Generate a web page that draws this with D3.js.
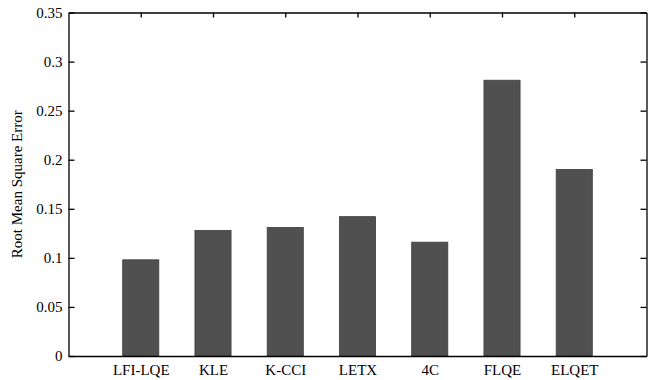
<!DOCTYPE html>
<html><head><meta charset="utf-8">
<script src="https://cdn.jsdelivr.net/npm/d3@7"></script>
<style>body{margin:0;background:#fff} svg text{font-family:"Liberation Serif","Times New Roman",Tinos,serif;}</style>
</head><body>
<script>
const categories = ["LFI-LQE","KLE","K-CCI","LETX","4C","FLQE","ELQET"];
const rmse = [0.098,0.128,0.131,0.142,0.116,0.281,0.190];
const yTicks = [0,0.05,0.1,0.15,0.2,0.25,0.3,0.35];
const yLabel = "Root Mean Square Error";

const W=655,H=380;
const m={l:68.5,r:8.5,t:12.5,b:24};
const svg=d3.select("body").append("svg").attr("width",W).attr("height",H);
const x=d3.scaleLinear().domain([0,categories.length+1]).range([m.l,W-m.r]);
const y=d3.scaleLinear().domain([0,0.35]).range([H-m.b,m.t]);
const bw=(x(1)-x(0))*0.5;

svg.append("g").selectAll("rect").data(rmse).join("rect")
  .attr("x",(d,i)=>x(i+1)-bw/2).attr("width",bw)
  .attr("y",d=>y(d)).attr("height",d=>y(0)-y(d))
  .attr("fill","#505050").attr("stroke","#3e3e3e").attr("stroke-width",0.8);

const yl=svg.append("g").attr("transform",`translate(${m.l},0)`)
  .call(d3.axisLeft(y).tickValues(yTicks).tickFormat(d=>d3.format("")(+d.toFixed(2))).tickSizeInner(-6).tickSizeOuter(0).tickPadding(6));
const yr=svg.append("g").attr("transform",`translate(${W-m.r},0)`)
  .call(d3.axisRight(y).tickValues(yTicks).tickFormat("").tickSizeInner(-6).tickSizeOuter(0));
const xb=svg.append("g").attr("transform",`translate(0,${H-m.b})`)
  .call(d3.axisBottom(x).tickValues(d3.range(1,categories.length+1)).tickFormat((d)=>categories[d-1]).tickSizeInner(0).tickSizeOuter(0).tickPadding(8));
const xt=svg.append("g").attr("transform",`translate(0,${m.t})`)
  .call(d3.axisTop(x).tickValues(d3.range(1,categories.length+1)).tickFormat("").tickSizeInner(-5).tickSizeOuter(0));

[yl,yr,xb,xt].forEach(g=>{
  g.attr("font-family",null);
  g.selectAll("path.domain").attr("stroke","#000").attr("stroke-width",1.3);
  g.selectAll("line").attr("stroke","#000").attr("stroke-width",1.3);
  g.selectAll("text").attr("fill","#000").attr("font-size","15px");
});

svg.append("text").attr("transform",`translate(22,${(m.t+H-m.b)/2}) rotate(-90)`)
  .attr("text-anchor","middle").attr("font-size","15px").attr("fill","#000").text(yLabel);
</script>
</body></html>
